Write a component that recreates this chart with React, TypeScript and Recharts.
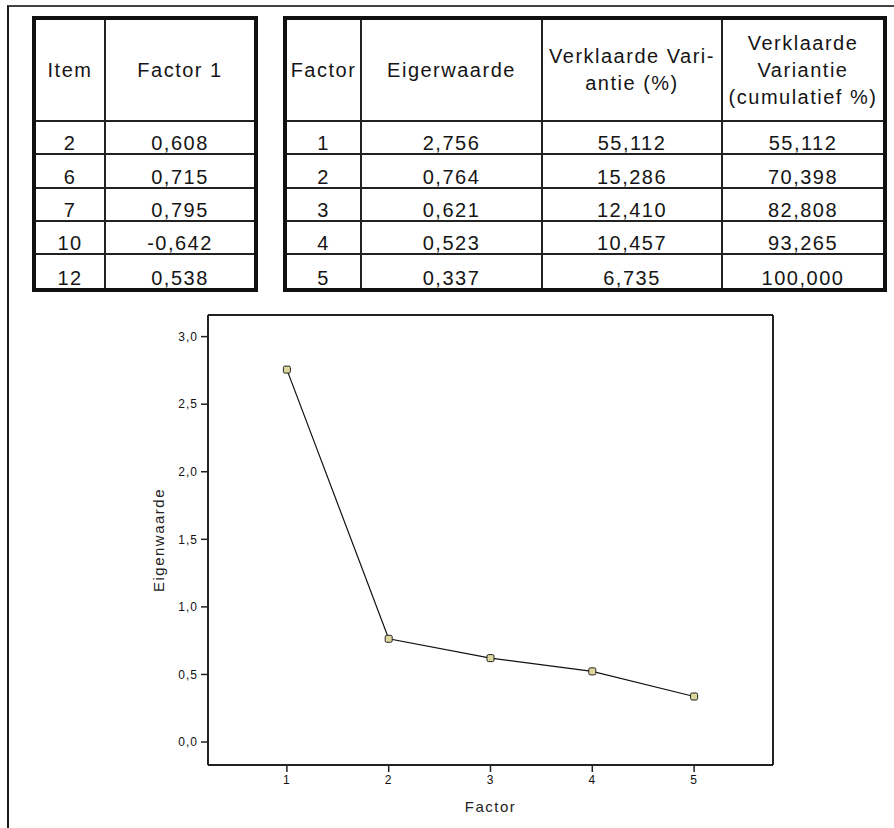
import React from "react";
import {
  LineChart,
  Line,
  XAxis,
  YAxis,
  Label,
  ReferenceLine
} from "recharts";

// loadings table
const items = ["2", "6", "7", "10", "12"];
const factor1Loadings = [0.608, 0.715, 0.795, -0.642, 0.538];

// eigenvalue table
const factors = [1, 2, 3, 4, 5];
const eigenvalues = [2.756, 0.764, 0.621, 0.523, 0.337];
const explainedVariance = [55.112, 15.286, 12.41, 10.457, 6.735];
const cumulativeVariance = [55.112, 70.398, 82.808, 93.265, 100.0];

// scree plot axes
const yTicks = [0, 0.5, 1, 1.5, 2, 2.5, 3];
const xTicks = [1, 2, 3, 4, 5];
const xDomain = [0.225, 5.775];
const yDomain = [-0.17, 3.16];

const fmt = (v: number, d: number) => v.toFixed(d).replace(".", ",");

const screeData = factors.map((f, i) => ({ factor: f, eigen: eigenvalues[i] }));

const font = '"Liberation Sans", Arial, sans-serif';

const tableStyle: React.CSSProperties = {
  position: "absolute",
  top: 16,
  height: 276,
  borderCollapse: "separate",
  borderSpacing: 0,
  border: "4px solid #111",
  tableLayout: "fixed",
  boxSizing: "border-box",
  fontFamily: font,
  fontSize: 20,
  letterSpacing: "1.5px",
  color: "#151515"
};

function cell(col: number, nCols: number, row: number, nRows: number, header: boolean): React.CSSProperties {
  return {
    padding: 0,
    textAlign: "center",
    borderRight: col < nCols - 1 ? "2px solid #222" : "none",
    borderBottom: row < nRows - 1 ? "2px solid #222" : "none",
    verticalAlign: header ? "middle" : "bottom",
    lineHeight: header ? "27px" : "20px",
    whiteSpace: "nowrap",
    overflow: "hidden"
  };
}

function LoadingsTable() {
  const n = items.length + 1;
  return (
    <table style={{ ...tableStyle, left: 32, width: 226 }}>
      <colgroup>
        <col style={{ width: 70 }} />
        <col />
      </colgroup>
      <tbody>
        <tr style={{ height: 102 }}>
          <td style={cell(0, 2, 0, n, true)}>Item</td>
          <td style={cell(1, 2, 0, n, true)}>Factor 1</td>
        </tr>
        {items.map((it, i) => (
          <tr key={it} style={{ height: 33 }}>
            <td style={cell(0, 2, i + 1, n, false)}>{it}</td>
            <td style={cell(1, 2, i + 1, n, false)}>{fmt(factor1Loadings[i], 3)}</td>
          </tr>
        ))}
      </tbody>
    </table>
  );
}

function EigenTable() {
  const n = factors.length + 1;
  return (
    <table style={{ ...tableStyle, left: 283, width: 604 }}>
      <colgroup>
        <col style={{ width: 75 }} />
        <col style={{ width: 181 }} />
        <col style={{ width: 180 }} />
        <col />
      </colgroup>
      <tbody>
        <tr style={{ height: 102 }}>
          <td style={cell(0, 4, 0, n, true)}>Factor</td>
          <td style={cell(1, 4, 0, n, true)}>Eigerwaarde</td>
          <td style={cell(2, 4, 0, n, true)}>
            Verklaarde Vari-
            <br />
            antie (%)
          </td>
          <td style={cell(3, 4, 0, n, true)}>
            Verklaarde
            <br />
            Variantie
            <br />
            (cumulatief %)
          </td>
        </tr>
        {factors.map((f, i) => (
          <tr key={f} style={{ height: 33 }}>
            <td style={cell(0, 4, i + 1, n, false)}>{f}</td>
            <td style={cell(1, 4, i + 1, n, false)}>{fmt(eigenvalues[i], 3)}</td>
            <td style={cell(2, 4, i + 1, n, false)}>{fmt(explainedVariance[i], 3)}</td>
            <td style={cell(3, 4, i + 1, n, false)}>{fmt(cumulativeVariance[i], 3)}</td>
          </tr>
        ))}
      </tbody>
    </table>
  );
}

const Marker = (props: any) => {
  const { cx, cy } = props;
  if (cx == null || cy == null) return null;
  return (
    <rect
      x={cx - 3.5}
      y={cy - 3.5}
      width={7}
      height={7}
      rx={1.5}
      fill="#ddd79c"
      stroke="#222"
      strokeWidth={1}
    />
  );
};

const tickStyle = {
  fontSize: 12,
  fill: "#111",
  fontFamily: font,
  style: { letterSpacing: "1px", fontSize: "12px" }
};

function ScreePlot() {
  return (
    <div style={{ position: "absolute", left: 0, top: 300 }}>
      <LineChart
        width={894}
        height={528}
        data={screeData}
        margin={{ top: 15, right: 121, bottom: 0, left: 110 }}
      >
        <XAxis
          dataKey="factor"
          type="number"
          domain={xDomain}
          ticks={xTicks}
          height={63}
          tickSize={7}
          tickMargin={3}
          tick={tickStyle}
          axisLine={{ stroke: "#222", strokeWidth: 2 }}
          tickLine={{ stroke: "#222", strokeWidth: 1.5 }}
        >
          <Label
            value="Factor"
            position="insideBottom"
            offset={16}
            fontSize={15}
            fill="#222"
            fontFamily={font}
            style={{ letterSpacing: "1.5px" }}
          />
        </XAxis>
        <YAxis
          type="number"
          domain={yDomain}
          ticks={yTicks}
          width={98}
          tickSize={7}
          tickMargin={3}
          tick={tickStyle}
          tickFormatter={(v: number) => fmt(v, 1)}
          axisLine={{ stroke: "#222", strokeWidth: 2 }}
          tickLine={{ stroke: "#222", strokeWidth: 1.5 }}
        >
          <Label
            value="Eigenwaarde"
            angle={-90}
            position="center"
            fontSize={15}
            fill="#222"
            fontFamily={font}
            style={{ letterSpacing: "1.5px" }}
          />
        </YAxis>
        {/* close the plot frame on top and right */}
        <ReferenceLine y={yDomain[1]} stroke="#222" strokeWidth={2} />
        <ReferenceLine x={xDomain[1]} stroke="#222" strokeWidth={2} />
        <Line
          type="linear"
          dataKey="eigen"
          stroke="#111"
          strokeWidth={1.2}
          dot={<Marker />}
          activeDot={false}
          isAnimationActive={false}
        />
      </LineChart>
    </div>
  );
}

export default function App() {
  return (
    <div
      style={{
        position: "absolute",
        left: 0,
        top: 0,
        width: 894,
        height: 828,
        overflow: "hidden",
        background: "#fff"
      }}
    >
      <div
        style={{
          position: "absolute",
          left: 7,
          top: 5,
          width: 900,
          height: 900,
          borderTop: "2px solid #444",
          borderLeft: "2px solid #1a1a1a"
        }}
      />
      <LoadingsTable />
      <EigenTable />
      <ScreePlot />
    </div>
  );
}
